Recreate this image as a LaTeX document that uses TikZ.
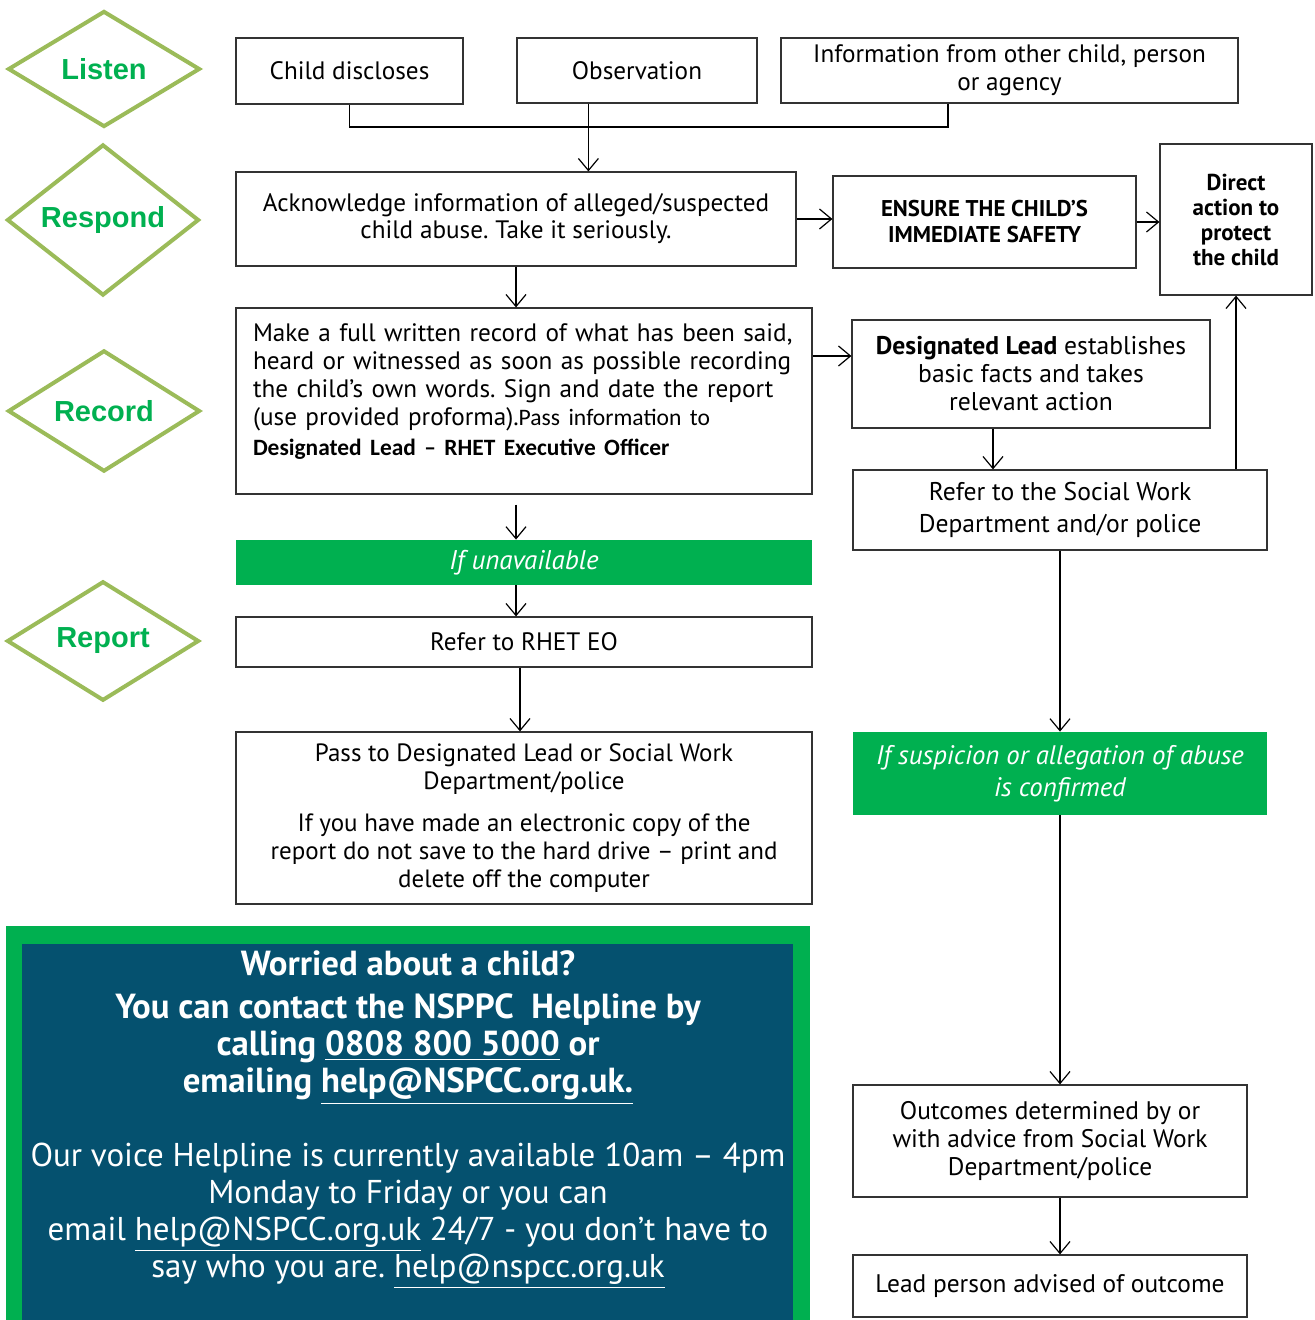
\documentclass[tikz,border=0pt]{standalone}
\usepackage{fontspec}
\setmainfont{PT Sans}
\newfontfamily\calibrifont{Carlito}
\newfontfamily\labelfont{Liberation Sans}
\usetikzlibrary{shapes.geometric,arrows.meta}
\definecolor{stagegreen}{RGB}{155,187,89}
\definecolor{labelgreen}{RGB}{0,176,80}
\definecolor{helpblue}{RGB}{5,81,111}
\frenchspacing
\begin{document}
\begin{tikzpicture}[x=0.5pt,y=-0.5pt,
    stage/.style={diamond,draw=stagegreen,line width=2pt,minimum width=96pt,minimum height=58pt,inner sep=0pt,text=labelgreen,font=\labelfont\bfseries\fontsize{14.5}{16}\selectfont},
    box/.style={draw=black!80,line width=0.6pt,inner sep=2pt,align=center,font=\fontsize{12.6}{14}\selectfont},
    banner/.style={fill=labelgreen,inner sep=2pt,align=center,text=white,font=\itshape\fontsize{13.4}{16}\selectfont},
    arr/.style={-{Straight Barb[length=6pt,width=10pt]},line width=0.6pt}]
    \useasboundingbox (0,0) rectangle (1314,1320);

    % stages
    \node[stage] (listen) at (104,69) {Listen};
    \node[stage] (respond) at (103,220) {Respond};
    \node[stage] (record) at (104,411) {Record};
    \node[stage] (report) at (103,641) {Report};

    % listen row
    \node[box,minimum width=113.5pt,minimum height=33pt] (child) at (349.5,71) {Child discloses};
    \node[box,minimum width=120pt,minimum height=32.5pt] (obs) at (637,70.5) {Observation};
    \node[box,minimum width=228.5pt,minimum height=32.5pt] (info) at (1009.5,70.5)
        {Information from other child, person\\or agency};
    \coordinate (merge) at (948,127);

    % respond row
    \node[box,minimum width=280pt,minimum height=47pt,font=\fontsize{12.6}{13.5}\selectfont] (ack) at (516,219)
        {Acknowledge information of alleged/suspected\\child abuse. Take it seriously.};
    \node[box,minimum width=151.5pt,minimum height=46pt,font=\bfseries\fontsize{11.4}{13}\selectfont] (safety) at (984.5,222)
        {ENSURE THE CHILD’S\\IMMEDIATE SAFETY};
    \node[box,minimum width=76pt,minimum height=75.5pt,font=\bfseries\fontsize{11.5}{12.5}\selectfont] (direct) at (1236,219.5)
        {Direct\\action to\\protect\\the child};

    % record row
    \node[box,minimum width=288pt,minimum height=93pt,text width=271pt,align=left,inner ysep=3pt] (note) at (524,401)
        {Make a full written record of what has been said,\\
         heard or witnessed as soon as possible recording\\
         the child’s own words. Sign and date the report\\
         (use provided proforma).{\calibrifont\fontsize{11.8}{14}\selectfont Pass information to}\\[1pt]
         {\calibrifont\bfseries\fontsize{11.7}{14}\selectfont Designated Lead – RHET Executive Officer}\\[-3pt]\mbox{}};
    \node[box,minimum width=179pt,minimum height=54pt,font=\fontsize{12.8}{14}\selectfont] (lead) at (1031,374)
        {\textbf{Designated Lead} establishes\\basic facts and takes\\relevant action};
    \node[box,minimum width=207pt,minimum height=40pt,font=\fontsize{12.8}{16}\selectfont] (socialwork) at (1060,510)
        {Refer to the Social Work\\Department and/or police};

    % report column
    \node[banner,minimum width=288pt,minimum height=22.5pt,font=\itshape\fontsize{13.5}{16}\selectfont] (unavail) at (524,562.5) {If unavailable};
    \node[box,minimum width=288pt,minimum height=25pt] (rhet) at (524,642) {Refer to RHET EO};
    \node[box,minimum width=288pt,minimum height=86pt,font=\fontsize{12.5}{14}\selectfont] (pass) at (524,818)
        {Pass to Designated Lead or Social Work\\Department/police\\[7pt]
         If you have made an electronic copy of the\\report do not save to the hard drive – print and\\delete off the computer};

    % right column
    \node[banner,minimum width=207pt,minimum height=41.5pt] (confirmed) at (1060,773.5)
        {If suspicion or allegation of abuse\\is confirmed};
    \node[box,minimum width=197pt,minimum height=56pt,font=\fontsize{12.7}{14}\selectfont] (outcome) at (1050,1141)
        {Outcomes determined by or\\with advice from Social Work\\Department/police};
    \node[box,minimum width=197pt,minimum height=31pt,font=\fontsize{12.7}{14}\selectfont] (advised) at (1050,1286) {Lead person advised of outcome};

    % helpline
    \node[fill=labelgreen,inner sep=0pt,minimum width=402pt,minimum height=197pt] (helpframe) at (408,1123) {};
    \node[fill=helpblue,inner sep=0pt,minimum width=385.5pt,minimum height=188pt] (helpbox) at (407.5,1132) {};
    \node[text=white,align=center,font=\fontsize{16.5}{18.5}\selectfont] (helptext) at (408,1120)
        {{\bfseries\fontsize{17.4}{18.5}\selectfont Worried about a child?}\\[3pt]
         {\bfseries\fontsize{17.4}{18.5}\selectfont You can contact the NSPPC\ \ Helpline by}\\
         {\bfseries\fontsize{17.4}{18.5}\selectfont calling \underline{0808 800 5000} or}\\
         {\bfseries\fontsize{17.4}{18.5}\selectfont emailing \underline{help@NSPCC.org.uk.}}\\[18.5pt]
         Our voice Helpline is currently available 10am – 4pm\\
         Monday to Friday or you can\\
         email \underline{help@NSPCC.org.uk} 24/7 - you don’t have to\\
         say who you are. \underline{help@nspcc.org.uk}};

    % connectors
    \draw[line width=0.6pt] (child.south) |- (merge) -- (merge |- info.south);
    \draw[arr] ([xshift=36pt]obs.south west) -- ([xshift=36pt]obs.south west |- ack.north);
    \draw[arr] (ack.east) -- (ack.east -| safety.west);
    \draw[arr] (safety.east) -- (safety.east -| direct.west);
    \draw[arr] (ack.south) -- (ack.south |- note.north);
    \draw[arr] ([yshift=22.5pt]note.east) -- ([yshift=22.5pt]note.east -| lead.west);
    \draw[arr] ([xshift=-19pt]lead.south) -- ([xshift=-19pt]lead.south |- socialwork.north);
    \draw[arr] (direct.south |- socialwork.north) -- (direct.south);
    \draw[arr] ([yshift=-5pt]ack.south |- note.south) -- (ack.south |- unavail.north);
    \draw[arr] (ack.south |- unavail.south) -- (ack.south |- rhet.north);
    \draw[arr] ([xshift=-2pt]rhet.south) -- ([xshift=-2pt]pass.north);
    \draw[arr] (socialwork.south) -- (confirmed.north);
    \draw[arr] (confirmed.south) -- (confirmed.south |- outcome.north);
    \draw[arr] (confirmed.south |- outcome.south) -- (confirmed.south |- advised.north);
\end{tikzpicture}
\end{document}
